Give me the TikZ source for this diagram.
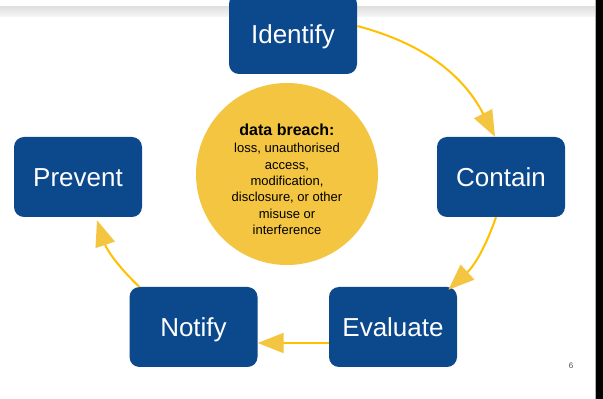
\documentclass[tikz,border=0pt]{standalone}
\usepackage{fontspec}
\setmainfont{Liberation Sans}
\usetikzlibrary{arrows.meta, positioning, calc}
\definecolor{stepblue}{RGB}{12, 72, 140}
\definecolor{breachyellow}{RGB}{243, 197, 64}
\definecolor{lineyellow}{RGB}{255, 192, 0}

\begin{document}
\begin{tikzpicture}[
    x=1pt, y=1pt,
    box/.style={rectangle, rounded corners=10pt, fill=stepblue, text=white, minimum width=128pt, minimum height=80pt, inner sep=0pt, text height=18.6pt, text depth=0pt, font=\fontsize{26}{30}\selectfont},
    breach/.style={circle, fill=breachyellow, minimum size=182pt, inner sep=0pt},
    arrow/.style={line width=2pt, draw=lineyellow, -{Triangle[length=26pt, width=20pt, color=breachyellow]}}
]

% Page
\useasboundingbox (0,0) rectangle (603,399);
\fill[white] (0,0) rectangle (603,399);
\shade[top color=black!12, bottom color=black!3] (0,382) rectangle (595,392);
\fill[black!30] (594.5,0) rectangle (595.7,399);
\fill[black] (595.7,0) rectangle (603,399);

% Centre
\node[breach] (breach) at (287,225) {};
\node[align=center, font=\fontsize{13}{16.3}\selectfont] (breachtext) at ([yshift=-5pt]breach.center) {{\fontsize{16}{18}\selectfont\bfseries data breach:}\\[1.5pt]loss, unauthorised\\access,\\modification,\\disclosure, or other\\misuse or\\interference};

% Stages
\node[box] (identify) at (293,365) {Identify};
\node[box] (contain) at (501,222) {Contain};
\node[box] (evaluate) at (393,72) {Evaluate};
\node[box] (notify) at (193.5,72) {Notify};
\node[box] (prevent) at (78,222) {Prevent};

% Arrows
\draw[arrow] ([yshift=8pt]identify.east) to[bend left=24] ([xshift=-6pt]contain.north);
\draw[arrow] ([xshift=-5pt]contain.south) to[bend left=14] ([xshift=-2pt,yshift=-3pt]evaluate.35);
\draw[arrow] ([yshift=-16pt]evaluate.west) -- ([yshift=-16pt]notify.east);
\draw[arrow] ([xshift=10pt]notify.north west) to[bend left=14] ([xshift=19pt,yshift=-3pt]prevent.south);

% Page number
\node[font=\fontsize{8}{10}\selectfont, text=black!70] (pagenum) at (571,33) {6};

\end{tikzpicture}
\end{document}
